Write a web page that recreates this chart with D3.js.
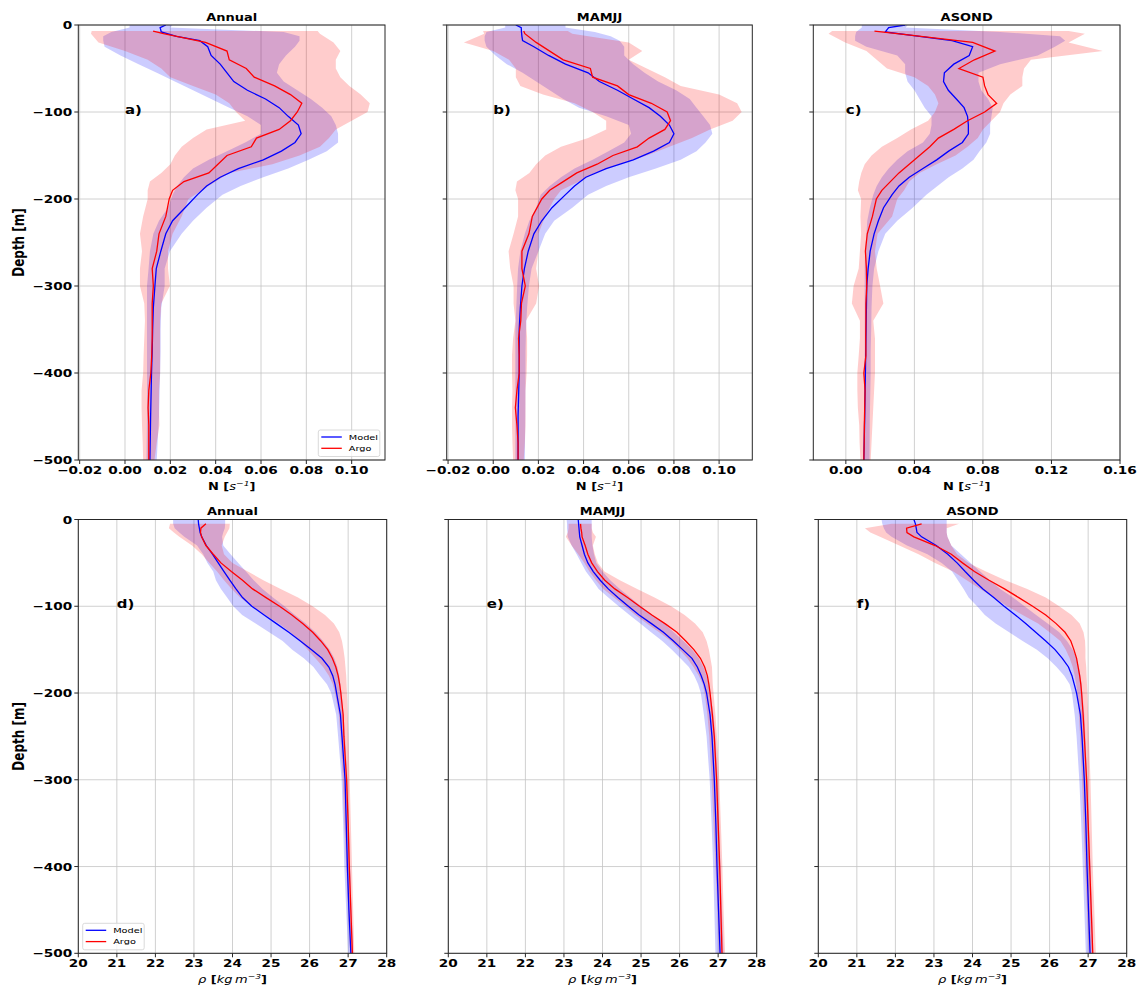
<!DOCTYPE html>
<html><head><meta charset="utf-8">
<script src="https://cdn.jsdelivr.net/npm/d3@7"></script>
<style>body{margin:0;background:#fff} text{font-family:"DejaVu Sans",sans-serif;fill:#000}</style>
</head><body><svg id="chart" width="1137" height="988"></svg>
<script>
// ---------- DATA ----------
const nModelDepth = [0,-3,-8,-13,-18,-25,-35,-45,-55,-65,-75,-85,-95,-105,-115,-125,-135,-145,-155,-165,-175,-185,-195,-210,-225,-240,-260,-280,-300,-325,-350,-375,-400,-450,-500];
const nArgoDepth = [-7,-10,-20,-30,-40,-50,-60,-70,-80,-90,-100,-110,-120,-130,-140,-150,-160,-170,-180,-190,-200,-220,-240,-260,-280,-300,-320,-340,-360,-380,-400,-420,-440,-460,-480,-500];

const annualN_model   = [0.018,0.0155,0.016,0.0227,0.033,0.0365,0.038,0.042,0.045,0.048,0.054,0.062,0.068,0.072,0.0765,0.0777,0.075,0.069,0.061,0.050,0.042,0.036,0.032,0.0265,0.021,0.018,0.0158,0.0138,0.0132,0.0125,0.0122,0.012,0.0117,0.0113,0.011];
const annualN_modelLo = [0.002,0.002,-0.006,-0.0096,-0.0096,-0.009,-0.002,0.006,0.014,0.022,0.030,0.038,0.046,0.054,0.060,0.060,0.053,0.045,0.037,0.030,0.026,0.023,0.021,0.019,0.015,0.0125,0.011,0.0104,0.0097,0.0097,0.0097,0.0097,0.0097,0.0097,0.0095];
const annualN_modelHi = [0.021,0.020,0.070,0.077,0.077,0.075,0.071,0.068,0.067,0.070,0.076,0.082,0.087,0.091,0.093,0.094,0.094,0.089,0.081,0.072,0.061,0.051,0.043,0.036,0.030,0.025,0.0198,0.0175,0.0175,0.016,0.0157,0.0157,0.0155,0.015,0.014];
const annualN_argo    = [0.0124,0.017,0.0355,0.045,0.046,0.0535,0.057,0.066,0.073,0.078,0.076,0.073,0.068,0.058,0.0557,0.045,0.041,0.037,0.026,0.021,0.0195,0.018,0.015,0.014,0.012,0.0125,0.012,0.012,0.012,0.0118,0.0114,0.0105,0.0102,0.0105,0.0105,0.0105];
const annualN_argoLo  = [-0.0147,-0.015,-0.0117,0.0,0.010,0.016,0.020,0.030,0.040,0.046,0.049,0.053,0.036,0.030,0.025,0.022,0.020,0.016,0.011,0.010,0.010,0.008,0.0066,0.0075,0.0066,0.0066,0.0085,0.0088,0.0085,0.0082,0.008,0.0073,0.0073,0.0075,0.0078,0.008];
const annualN_argoHi  = [0.085,0.086,0.092,0.095,0.093,0.093,0.095,0.099,0.104,0.108,0.107,0.100,0.093,0.090,0.086,0.077,0.065,0.046,0.040,0.034,0.028,0.025,0.021,0.019,0.019,0.0198,0.016,0.0155,0.0155,0.0155,0.0155,0.015,0.015,0.0152,0.014,0.013];

const mamjjN_model   = [0.010,0.0124,0.0125,0.0127,0.013,0.018,0.0245,0.032,0.042,0.047,0.055,0.062,0.069,0.074,0.078,0.080,0.078,0.071,0.062,0.050,0.041,0.036,0.032,0.026,0.0215,0.018,0.0155,0.0138,0.0127,0.012,0.0115,0.0115,0.0115,0.011,0.011];
const mamjjN_modelLo = [0.0053,0.0053,-0.003,-0.0038,-0.0038,-0.003,0.001,0.006,0.013,0.019,0.025,0.031,0.038,0.050,0.060,0.061,0.058,0.051,0.044,0.036,0.030,0.025,0.021,0.019,0.016,0.014,0.012,0.011,0.0106,0.0102,0.0098,0.0098,0.0098,0.0098,0.0098];
const mamjjN_modelHi = [0.032,0.032,0.045,0.052,0.056,0.058,0.058,0.062,0.067,0.073,0.081,0.087,0.090,0.093,0.096,0.097,0.094,0.090,0.083,0.072,0.060,0.050,0.042,0.035,0.027,0.023,0.020,0.017,0.0158,0.015,0.0145,0.0143,0.0143,0.0142,0.014];
const mamjjN_argo    = [0.0135,0.014,0.019,0.025,0.031,0.043,0.044,0.055,0.060,0.070,0.077,0.0785,0.076,0.069,0.0638,0.053,0.046,0.037,0.031,0.025,0.0215,0.0173,0.0158,0.0127,0.0127,0.0142,0.0125,0.0122,0.0112,0.0115,0.0115,0.0105,0.0098,0.0105,0.011,0.011];
const mamjjN_argoLo  = [-0.0045,-0.004,-0.013,0.0,0.007,0.010,0.010,0.012,0.022,0.036,0.044,0.050,0.050,0.042,0.030,0.023,0.019,0.016,0.0105,0.0098,0.011,0.011,0.009,0.0068,0.0075,0.009,0.009,0.0098,0.0088,0.0083,0.0083,0.0085,0.0083,0.0083,0.0085,0.0088];
const mamjjN_argoHi  = [0.033,0.035,0.060,0.066,0.060,0.068,0.076,0.083,0.100,0.108,0.110,0.106,0.096,0.088,0.078,0.068,0.056,0.045,0.038,0.030,0.027,0.023,0.020,0.020,0.019,0.0203,0.019,0.0145,0.015,0.015,0.0148,0.0143,0.0143,0.0143,0.014,0.0135];

const asondN_model   = [0.0346,0.025,0.023,0.043,0.062,0.074,0.072,0.063,0.0575,0.057,0.0598,0.0645,0.069,0.071,0.0715,0.0715,0.068,0.060,0.053,0.045,0.037,0.031,0.027,0.022,0.019,0.0165,0.0142,0.013,0.0122,0.012,0.0118,0.0116,0.0114,0.011,0.0105];
const asondN_modelLo = [0.0093,0.0093,0.006,0.0054,0.0054,0.012,0.030,0.0346,0.0346,0.036,0.040,0.043,0.046,0.050,0.050,0.049,0.045,0.036,0.030,0.025,0.021,0.018,0.016,0.014,0.0125,0.012,0.0112,0.011,0.011,0.011,0.011,0.011,0.0108,0.0105,0.0102];
const asondN_modelHi = [0.036,0.035,0.090,0.125,0.128,0.122,0.112,0.090,0.0774,0.0774,0.079,0.083,0.0857,0.085,0.0842,0.0842,0.082,0.078,0.0745,0.068,0.060,0.0535,0.047,0.039,0.030,0.023,0.019,0.0165,0.0155,0.015,0.0148,0.0145,0.0145,0.014,0.0138];
const asondN_argo    = [0.0167,0.030,0.074,0.087,0.075,0.066,0.080,0.081,0.083,0.088,0.081,0.071,0.063,0.054,0.049,0.043,0.037,0.031,0.026,0.021,0.0178,0.0155,0.0125,0.0114,0.012,0.0122,0.0117,0.0117,0.0116,0.0117,0.0105,0.0112,0.011,0.0108,0.0107,0.0105];
const asondN_argoLo  = [-0.008,-0.0101,-0.0004,0.012,0.018,0.024,0.040,0.048,0.052,0.054,0.052,0.048,0.038,0.030,0.021,0.015,0.011,0.009,0.0078,0.007,0.0089,0.0085,0.0089,0.0082,0.0075,0.0045,0.0035,0.0082,0.0082,0.0075,0.0067,0.0067,0.007,0.0078,0.008,0.0085];
const asondN_argoHi  = [0.130,0.1395,0.130,0.150,0.108,0.104,0.103,0.103,0.096,0.092,0.090,0.085,0.080,0.077,0.071,0.064,0.053,0.043,0.037,0.034,0.030,0.027,0.0185,0.017,0.018,0.020,0.0219,0.016,0.017,0.017,0.017,0.0165,0.016,0.0155,0.015,0.0145];

const rhoModelDepth = [0,-5,-10,-15,-20,-30,-40,-50,-60,-70,-80,-90,-100,-110,-120,-130,-140,-150,-160,-170,-180,-190,-200,-225,-250,-300,-350,-400,-450,-500];
const rhoArgoDepth  = [-5,-10,-15,-20,-30,-40,-50,-60,-70,-80,-90,-100,-110,-120,-130,-140,-150,-160,-170,-180,-190,-200,-225,-250,-300,-350,-400,-450,-500];

const annualRho_model   = [23.11,23.12,23.14,23.16,23.2,23.32,23.48,23.63,23.78,23.93,24.09,24.26,24.5,24.82,25.14,25.46,25.76,26.05,26.32,26.5,26.6,26.66,26.70,26.8,26.84,26.92,26.95,26.98,27.02,27.07];
const annualRho_modelLo = [22.46,22.46,22.5,22.62,22.75,23.08,23.24,23.35,23.5,23.57,23.7,23.86,24.02,24.25,24.6,24.95,25.3,25.55,25.85,26.1,26.27,26.45,26.56,26.69,26.74,26.83,26.87,26.9,26.95,27.0];
const annualRho_modelHi = [23.81,23.81,23.8,23.76,23.73,23.76,23.95,24.15,24.35,24.55,24.78,25.05,25.35,25.62,25.9,26.15,26.35,26.52,26.64,26.72,26.77,26.8,26.83,26.88,26.92,26.98,27.02,27.05,27.09,27.13];
const annualRho_argo    = [23.31,23.18,23.17,23.2,23.31,23.5,23.7,23.97,24.26,24.52,24.87,25.22,25.54,25.82,26.08,26.29,26.47,26.59,26.68,26.74,26.78,26.81,26.87,26.89,26.96,27.0,27.03,27.07,27.11];
const annualRho_argoLo  = [22.38,22.35,22.48,22.62,22.95,23.2,23.4,23.6,23.78,23.98,24.2,24.5,24.85,25.2,25.5,25.75,25.95,26.15,26.35,26.5,26.6,26.66,26.76,26.8,26.86,26.9,26.95,27.0,27.05];
const annualRho_argoHi  = [23.93,23.92,23.86,23.8,23.72,23.78,24.0,24.4,24.8,25.25,25.7,26.08,26.4,26.63,26.77,26.84,26.88,26.91,26.93,26.95,26.96,26.97,26.99,27.01,27.04,27.07,27.1,27.13,27.16];

const mamjjRho_model   = [23.37,23.38,23.39,23.4,23.41,23.47,23.53,23.62,23.76,23.94,24.15,24.4,24.67,24.95,25.27,25.58,25.84,26.08,26.32,26.46,26.56,26.64,26.7,26.79,26.84,26.9,26.94,26.97,27.01,27.05];
const mamjjRho_modelLo = [23.07,23.08,23.08,23.09,23.1,23.2,23.33,23.45,23.57,23.74,23.9,24.15,24.42,24.7,24.98,25.26,25.55,25.8,26.02,26.24,26.38,26.48,26.55,26.63,26.7,26.78,26.83,26.87,26.9,26.93];
const mamjjRho_modelHi = [23.72,23.72,23.72,23.72,23.72,23.74,23.78,23.84,24.0,24.2,24.45,24.72,25.0,25.3,25.6,25.85,26.1,26.33,26.5,26.62,26.7,26.76,26.8,26.88,26.93,26.99,27.03,27.06,27.1,27.14];
const mamjjRho_argo    = [23.43,23.44,23.46,23.47,23.55,23.62,23.72,23.87,24.06,24.32,24.65,24.96,25.28,25.62,25.93,26.16,26.37,26.54,26.65,26.72,26.76,26.79,26.85,26.9,26.96,27.0,27.04,27.07,27.1];
const mamjjRho_argoLo  = [23.12,23.12,23.1,23.05,23.2,23.37,23.53,23.66,23.83,24.02,24.3,24.58,24.85,25.15,25.47,25.77,26.0,26.2,26.36,26.5,26.6,26.65,26.72,26.77,26.83,26.88,26.93,26.98,27.02];
const mamjjRho_argoHi  = [23.72,23.72,23.75,23.83,23.75,23.8,23.88,24.05,24.45,24.9,25.35,25.78,26.13,26.4,26.6,26.7,26.76,26.8,26.84,26.85,26.86,26.88,26.93,26.97,27.03,27.07,27.11,27.14,27.18];

const asondRho_model   = [22.48,22.52,22.54,22.56,22.68,23.06,23.36,23.6,23.81,24.03,24.27,24.55,24.82,25.11,25.38,25.64,25.9,26.14,26.33,26.49,26.58,26.64,26.7,26.8,26.84,26.9,26.94,26.97,27.01,27.05];
const asondRho_modelLo = [21.64,21.66,21.7,21.76,21.9,22.3,22.83,23.2,23.47,23.62,23.77,23.9,24.12,24.32,24.6,24.95,25.3,25.67,25.95,26.18,26.38,26.52,26.58,26.65,26.7,26.77,26.82,26.86,26.9,26.94];
const asondRho_modelHi = [23.33,23.33,23.33,23.33,23.35,23.45,23.7,23.95,24.2,24.45,24.72,25.05,25.35,25.65,25.95,26.25,26.45,26.6,26.7,26.76,26.8,26.83,26.85,26.9,26.93,26.98,27.02,27.06,27.1,27.13];
const asondRho_argo    = [22.68,22.29,22.3,22.48,23.03,23.45,23.74,24.05,24.43,24.83,25.2,25.56,25.9,26.17,26.4,26.55,26.63,26.7,26.74,26.78,26.81,26.83,26.87,26.9,26.96,27.0,27.04,27.08,27.12];
const asondRho_argoLo  = [21.9,21.21,21.35,21.6,22.1,22.6,23.03,23.5,23.85,24.2,24.55,24.9,25.3,25.7,26.0,26.28,26.42,26.52,26.6,26.65,26.69,26.72,26.76,26.79,26.84,26.88,26.92,26.97,27.02];
const asondRho_argoHi  = [23.65,23.33,23.33,23.35,23.45,23.6,23.9,24.35,24.85,25.42,25.9,26.25,26.57,26.78,26.88,26.92,26.93,26.93,26.95,26.96,26.97,26.98,27.0,27.02,27.06,27.09,27.12,27.16,27.2];

const depthTicks = [0,-100,-200,-300,-400,-500];
const nTicksAB = [-0.02,0.00,0.02,0.04,0.06,0.08,0.10];
const nTicksC = [0.00,0.04,0.08,0.12,0.16];
const rhoTicks = [20,21,22,23,24,25,26,27,28];
const titles = ["Annual","MAMJJ","ASOND"];
const panelLetters = ["a)","b)","c)","d)","e)","f)"];
const legendNames = ["Model","Argo"];

// ---------- LAYOUT ----------
const SX = 1.3; // horizontal stretch of the reference
const svg = d3.select("#chart");
const BLUE = "#0000ff", RED = "#ff0000";

function stext(g, x, y, anchor, size, weight) {
  return g.append("g").attr("transform", `translate(${x},${y}) scale(${SX},1)`)
    .append("text").attr("text-anchor", anchor).attr("font-size", size)
    .attr("font-weight", weight || "bold");
}
const fmtN = v => (v < 0 ? "\u2212" : "") + Math.abs(v).toFixed(2);

const panels = [
  {x0:78.3,x1:385,y0:25,y1:460,dom:[-0.0206,0.1147],ticks:nTicksAB,fmt:fmtN,title:titles[0],letter:panelLetters[0],lx:0.0,
   md:nModelDepth,ad:nArgoDepth,m:annualN_model,mlo:annualN_modelLo,mhi:annualN_modelHi,a:annualN_argo,alo:annualN_argoLo,ahi:annualN_argoHi,ylab:true,legend:"br",kind:"N"},
  {x0:446.7,x1:752.3,y0:25,y1:460,dom:[-0.0206,0.1147],ticks:nTicksAB,fmt:fmtN,title:titles[1],letter:panelLetters[1],lx:0.0,
   md:nModelDepth,ad:nArgoDepth,m:mamjjN_model,mlo:mamjjN_modelLo,mhi:mamjjN_modelHi,a:mamjjN_argo,alo:mamjjN_argoLo,ahi:mamjjN_argoHi,ylab:false,kind:"N"},
  {x0:813.3,x1:1120,y0:25,y1:460,dom:[-0.019,0.16],ticks:nTicksC,fmt:fmtN,title:titles[2],letter:panelLetters[2],lx:0.0,
   md:nModelDepth,ad:nArgoDepth,m:asondN_model,mlo:asondN_modelLo,mhi:asondN_modelHi,a:asondN_argo,alo:asondN_argoLo,ahi:asondN_argoHi,ylab:false,kind:"N"},
  {x0:78.3,x1:386.7,y0:519.5,y1:953.3,dom:[20,28],ticks:rhoTicks,fmt:d3.format("d"),title:titles[0],letter:panelLetters[3],lx:21,
   md:rhoModelDepth,ad:rhoArgoDepth,m:annualRho_model,mlo:annualRho_modelLo,mhi:annualRho_modelHi,a:annualRho_argo,alo:annualRho_argoLo,ahi:annualRho_argoHi,ylab:true,legend:"bl",kind:"rho"},
  {x0:448.3,x1:756.7,y0:519.5,y1:953.3,dom:[20,28],ticks:rhoTicks,fmt:d3.format("d"),title:titles[1],letter:panelLetters[4],lx:21,
   md:rhoModelDepth,ad:rhoArgoDepth,m:mamjjRho_model,mlo:mamjjRho_modelLo,mhi:mamjjRho_modelHi,a:mamjjRho_argo,alo:mamjjRho_argoLo,ahi:mamjjRho_argoHi,ylab:false,kind:"rho"},
  {x0:818.3,x1:1126.7,y0:519.5,y1:953.3,dom:[20,28],ticks:rhoTicks,fmt:d3.format("d"),title:titles[2],letter:panelLetters[5],lx:21,
   md:rhoModelDepth,ad:rhoArgoDepth,m:asondRho_model,mlo:asondRho_modelLo,mhi:asondRho_modelHi,a:asondRho_argo,alo:asondRho_argoLo,ahi:asondRho_argoHi,ylab:false,kind:"rho"}
];

panels.forEach((p, i) => {
  const x = d3.scaleLinear().domain(p.dom).range([p.x0, p.x1]);
  const y = d3.scaleLinear().domain([0, -500]).range([p.y0, p.y1]);
  const g = svg.append("g");
  const cid = "clip" + i;
  svg.append("clipPath").attr("id", cid).append("rect")
    .attr("x", p.x0).attr("y", p.y0).attr("width", p.x1 - p.x0).attr("height", p.y1 - p.y0);

  // grid
  const grid = g.append("g").attr("stroke", "#c4c4c4").attr("stroke-width", 0.8);
  p.ticks.forEach(t => grid.append("line").attr("x1", x(t)).attr("x2", x(t)).attr("y1", p.y0).attr("y2", p.y1));
  depthTicks.forEach(t => grid.append("line").attr("x1", p.x0).attr("x2", p.x1).attr("y1", y(t)).attr("y2", y(t)));

  const plot = g.append("g").attr("clip-path", `url(#${cid})`);
  const mBand = p.md.map((d, k) => ({d, lo: p.mlo[k], hi: p.mhi[k]}));
  const aBand = p.ad.map((d, k) => ({d, lo: p.alo[k], hi: p.ahi[k]}));
  const area = d3.area().y(o => y(o.d)).x0(o => x(o.lo)).x1(o => x(o.hi));
  plot.append("path").attr("d", area(mBand)).attr("fill", BLUE).attr("fill-opacity", 0.2);
  plot.append("path").attr("d", area(aBand)).attr("fill", RED).attr("fill-opacity", 0.2);
  const line = d3.line().x(o => x(o[1])).y(o => y(o[0]));
  plot.append("path").attr("d", line(p.md.map((d, k) => [d, p.m[k]]))).attr("fill", "none").attr("stroke", BLUE).attr("stroke-width", 1.3);
  plot.append("path").attr("d", line(p.ad.map((d, k) => [d, p.a[k]]))).attr("fill", "none").attr("stroke", RED).attr("stroke-width", 1.3);

  // spines
  g.append("rect").attr("x", p.x0).attr("y", p.y0).attr("width", p.x1 - p.x0).attr("height", p.y1 - p.y0)
    .attr("fill", "none").attr("stroke", "#262626").attr("stroke-width", 1);

  // ticks
  const tk = g.append("g").attr("stroke", "#262626").attr("stroke-width", 1);
  p.ticks.forEach(t => {
    tk.append("line").attr("x1", x(t)).attr("x2", x(t)).attr("y1", p.y1).attr("y2", p.y1 + 4);
    stext(g, x(t), p.y1 + 14, "middle", 10.5).text(p.fmt(t));
  });
  depthTicks.forEach(t => {
    tk.append("line").attr("x1", p.x0 - 4).attr("x2", p.x0).attr("y1", y(t)).attr("y2", y(t));
    if (p.ylab) stext(g, p.x0 - 6, y(t) + 4, "end", 10.5).text(t === 0 ? "0" : "\u2212" + Math.abs(t));
  });

  // title, letter
  const cx = (p.x0 + p.x1) / 2;
  stext(g, cx, p.y0 - 4.5, "middle", 10).text(p.title);
  stext(g, x(p.lx), y(-100) + 1.5, "start", 11.5).text(p.letter);

  // x label
  const xl = stext(g, cx, p.y1 + 30, "middle", 10);
  if (p.kind === "N") {
    xl.append("tspan").text("N [");
    xl.append("tspan").attr("font-style", "italic").attr("font-weight", "normal").text("s");
    xl.append("tspan").attr("font-style", "italic").attr("font-weight", "normal").attr("font-size", 7).attr("dy", -4).text("\u22121");
    xl.append("tspan").attr("dy", 4).text("]");
  } else {
    xl.append("tspan").attr("font-style", "italic").attr("font-weight", "normal").text("\u03c1");
    xl.append("tspan").text(" [");
    xl.append("tspan").attr("font-style", "italic").attr("font-weight", "normal").text("kg\u2009m");
    xl.append("tspan").attr("font-style", "italic").attr("font-weight", "normal").attr("font-size", 7).attr("dy", -4).text("\u22123");
    xl.append("tspan").attr("dy", 4).text("]");
  }

  // y label
  if (p.ylab) {
    g.append("g").attr("transform", `translate(24,${(p.y0 + p.y1) / 2}) scale(${SX},1) rotate(-90)`)
      .append("text").attr("text-anchor", "middle").attr("font-size", 12).attr("font-weight", "bold").text("Depth [m]");
  }

  // legend
  if (p.legend) {
    const bx = p.legend === "br" ? 318.3 : 82.7;
    const by = p.legend === "br" ? 430 : 923.3;
    const lg = g.append("g");
    lg.append("rect").attr("x", bx).attr("y", by).attr("width", 61.5).attr("height", 26.5).attr("rx", 2)
      .attr("fill", "#fff").attr("fill-opacity", 0.8).attr("stroke", "#d0d0d0").attr("stroke-width", 0.8);
    [BLUE, RED].forEach((c, k) => {
      const ly = by + 7 + k * 11.3;
      lg.append("line").attr("x1", bx + 3).attr("x2", bx + 23.5).attr("y1", ly).attr("y2", ly).attr("stroke", c).attr("stroke-width", 1.3);
      stext(lg, bx + 30.5, ly + 2.8, "start", 7.5, "normal").text(legendNames[k]);
    });
  }
});
</script></body></html>
